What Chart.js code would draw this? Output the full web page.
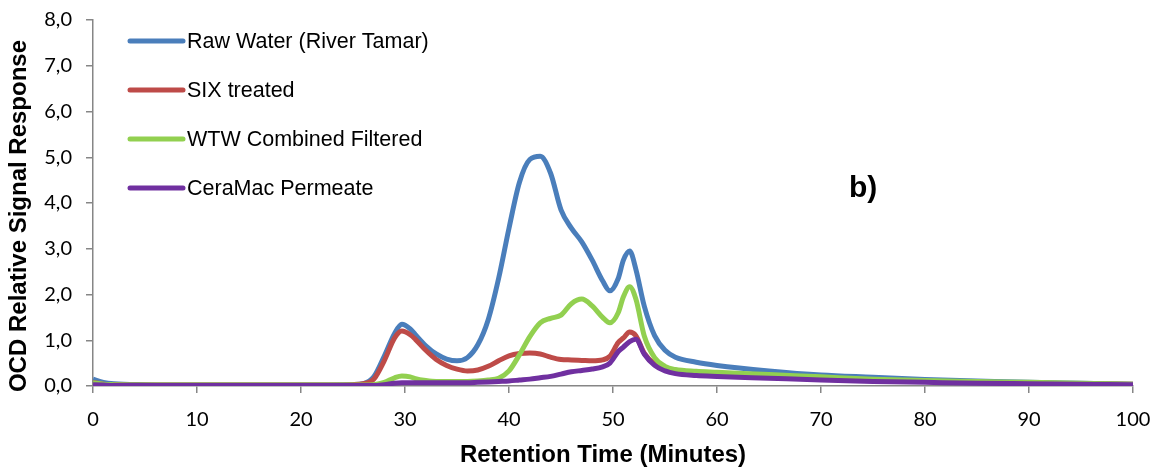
<!DOCTYPE html>
<html><head><meta charset="utf-8">
<script src="https://cdn.jsdelivr.net/npm/chart.js@4.4.1/dist/chart.umd.min.js"></script>
<style>html,body{margin:0;padding:0;background:#fff}#wrap{width:1161px;height:470px;position:relative}</style>
</head><body><div id="wrap"><canvas id="c" width="1161" height="470"></canvas></div>
<script>
const times = [0,1,2,5,10,15,20,25,26,27,28,29,29.7,30.5,31,32,33,34,35,36,37,38,39,40,41,42,43,44,45,46,47,48,49,49.7,50.5,51,51.6,52.2,53,54,55,56,58,60,65,70,75,80,85,90,95,100];
const rawWater = [0.15,0.08,0.05,0.03,0.02,0.02,0.02,0.03,0.05,0.2,0.65,1.15,1.35,1.25,1.12,0.88,0.7,0.59,0.55,0.62,0.9,1.45,2.35,3.45,4.45,4.95,5.02,4.65,3.85,3.45,3.15,2.75,2.3,2.08,2.35,2.75,2.95,2.55,1.75,1.1,0.78,0.63,0.52,0.45,0.33,0.24,0.19,0.14,0.11,0.08,0.06,0.04];
const sixTreated = [0.08,0.04,0.03,0.02,0.02,0.02,0.02,0.03,0.05,0.15,0.55,1.05,1.2,1.12,1.02,0.78,0.58,0.45,0.37,0.33,0.35,0.43,0.55,0.66,0.71,0.72,0.7,0.63,0.58,0.57,0.56,0.55,0.57,0.65,0.95,1.05,1.18,1.1,0.72,0.48,0.37,0.32,0.28,0.26,0.2,0.15,0.12,0.1,0.08,0.06,0.05,0.04];
const wtwFiltered = [0.07,0.04,0.03,0.02,0.02,0.02,0.02,0.02,0.02,0.03,0.08,0.18,0.22,0.2,0.16,0.12,0.1,0.1,0.1,0.1,0.11,0.13,0.17,0.33,0.68,1.08,1.38,1.48,1.55,1.8,1.9,1.75,1.5,1.38,1.6,1.95,2.17,1.9,1.1,0.62,0.43,0.36,0.32,0.3,0.25,0.2,0.15,0.12,0.1,0.08,0.06,0.04];
const ceraMac = [0.03,0.02,0.01,0.01,0.01,0.01,0.01,0.01,0.01,0.01,0.03,0.06,0.07,0.07,0.07,0.07,0.07,0.07,0.07,0.07,0.08,0.09,0.1,0.11,0.13,0.15,0.18,0.21,0.26,0.31,0.34,0.37,0.42,0.5,0.75,0.85,0.97,1.02,0.7,0.45,0.33,0.27,0.23,0.21,0.17,0.13,0.1,0.08,0.06,0.05,0.04,0.03];
const seriesNames = ["Raw Water (River Tamar)","SIX treated","WTW Combined Filtered","CeraMac Permeate"];
const seriesColors = ["#4A7EBB","#BE4B48","#92D050","#7030A0"];
const xTicks = [0,10,20,30,40,50,60,70,80,90,100];
const yTicks = [0,1,2,3,4,5,6,7,8];
const xTitle = "Retention Time (Minutes)";
const yTitle = "OCD Relative Signal Response";
const panelLabel = "b)";

const allVals = [rawWater, sixTreated, wtwFiltered, ceraMac];
const datasets = allVals.map((vals,i)=>({
  label: seriesNames[i],
  data: times.map((t,j)=>({x:t,y:vals[j]})),
  borderColor: seriesColors[i],
  backgroundColor: seriesColors[i],
  borderWidth: 5,
  pointRadius: 0,
  cubicInterpolationMode: 'monotone',
  fill: false
})).reverse();

const textPlugin = {
  id:'customText',
  afterDraw(chart){
    const ctx = chart.ctx;
    ctx.save();
    seriesNames.forEach((n,i)=>{
      const y = 41 + i*49;
      ctx.strokeStyle = seriesColors[i];
      ctx.lineWidth = 5;
      ctx.lineCap = 'round';
      ctx.beginPath(); ctx.moveTo(130,y); ctx.lineTo(183,y); ctx.stroke();
      ctx.fillStyle = '#000';
      ctx.font = '21.5px "Liberation Sans", Arial, sans-serif';
      ctx.textBaseline = 'middle';
      ctx.textAlign = 'left';
      ctx.fillText(n, 187, y+1);
    });
    ctx.fillStyle = '#000';
    ctx.font = 'bold 30px "Liberation Sans", Arial, sans-serif';
    ctx.textBaseline = 'alphabetic';
    ctx.fillText(panelLabel, 849, 197);
    ctx.font = 'bold 24px "Liberation Sans", Arial, sans-serif';
    ctx.textAlign = 'center';
    ctx.textBaseline = 'middle';
    ctx.fillText(xTitle, 603, 455);
    ctx.translate(19, 216);
    ctx.rotate(-Math.PI/2);
    ctx.fillText(yTitle, 0, 0);
    ctx.restore();
  }
};

new Chart(document.getElementById('c'), {
  type:'line',
  data:{datasets},
  options:{
    responsive:false, animation:false,
    layout:{padding:{left:0,right:28,top:20,bottom:0}},
    plugins:{legend:{display:false}, tooltip:{enabled:false}},
    scales:{
      x:{type:'linear',min:0,max:100,
        afterBuildTicks(s){ s.ticks = xTicks.map(v=>({value:v})); },
        afterFit(s){ s.height = 84; s.paddingLeft = 0; s.paddingRight = 0; },
        grid:{display:true,drawOnChartArea:false,drawTicks:true,tickLength:7,color:'#868686',lineWidth:1.5},
        border:{color:'#868686',width:1.5},
        ticks:{color:'#000',font:{family:'Lato, "Liberation Sans", sans-serif',size:20},maxRotation:0,padding:15}
      },
      y:{min:0,max:8,
        afterBuildTicks(s){ s.ticks = yTicks.map(v=>({value:v})); },
        afterFit(s){ s.width = 93; s.paddingTop = 0; s.paddingBottom = 0; },
        grid:{display:true,drawOnChartArea:false,drawTicks:true,tickLength:7,color:'#868686',lineWidth:1.5},
        border:{color:'#868686',width:1.5},
        ticks:{color:'#000',font:{family:'Lato, "Liberation Sans", sans-serif',size:20},padding:14,
          callback:v=>v.toFixed(1).replace('.',',')}
      }
    }
  },
  plugins:[textPlugin]
});
</script></body></html>
